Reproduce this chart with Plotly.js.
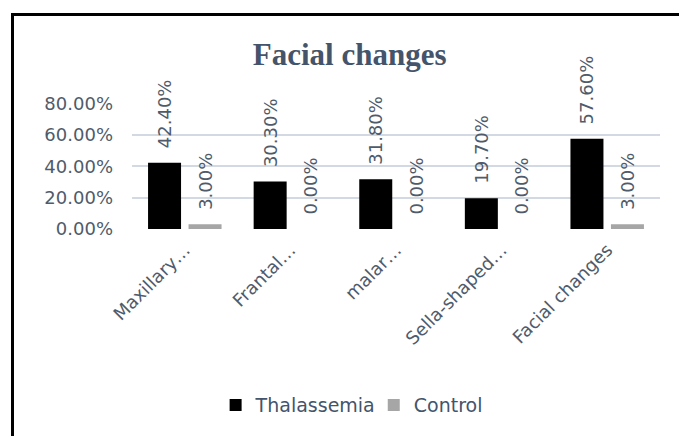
<!DOCTYPE html>
<html>
<head>
<meta charset="utf-8">
<script src="https://cdn.plot.ly/plotly-3.0.1.min.js"></script>
<style>
  html, body { margin: 0; padding: 0; background: #fff; overflow: hidden; }
  #chart { width: 679px; height: 436px; }
  #frame { position: absolute; left: 11px; top: 13px; width: 700px; height: 500px;
           border-left: 3px solid #000; border-top: 3px solid #000; pointer-events: none; }
</style>
</head>
<body>
<div id="chart"></div>
<div id="frame"></div>
<script>
const categories = ["Maxillary…", "Frantal…", "malar…", "Sella-shaped…", "Facial changes"];
const thalassemia = [0.424, 0.303, 0.318, 0.197, 0.576];
const control = [0.03, 0.0, 0.0, 0.0, 0.03];
const yTicks = [0, 0.2, 0.4, 0.6, 0.8];

const labelColor = "#4f5b6b";
const font = "DejaVu Sans, sans-serif";

function series(name, values, color) {
  return {
    type: "bar",
    name: name,
    x: categories,
    y: values,
    marker: { color: color },
    texttemplate: "\u00a0\u00a0%{y:.2%}",
    textposition: "outside",
    textangle: -90,
    constraintext: "none",
    cliponaxis: false,
    textfont: { family: font, size: 18, color: labelColor },
    hoverinfo: "skip"
  };
}

const data = [
  series("Thalassemia", thalassemia, "#000000"),
  series("Control", control, "#a6a6a6")
];

const layout = {
  width: 679,
  height: 436,
  margin: { l: 132, r: 19, t: 103.2, b: 207 },
  paper_bgcolor: "#ffffff",
  plot_bgcolor: "#ffffff",
  barmode: "group",
  bargap: 0.233,
  bargroupgap: 0.185,
  showlegend: true,
  title: {
    text: "<b>Facial changes</b>",
    font: { family: "Liberation Serif, Times New Roman, serif", size: 31, color: "#44546a" },
    x: 0.515, xref: "container", xanchor: "center",
    y: 0.875, yref: "container", yanchor: "middle"
  },
  xaxis: {
    type: "category",
    tickangle: -45,
    ticks: "",
    ticklabelstandoff: 6,
    showgrid: false,
    showline: false,
    zeroline: false,
    tickfont: { family: font, size: 18, color: labelColor }
  },
  yaxis: {
    range: [0, 0.805],
    tickvals: yTicks,
    tickformat: ".2%",
    ticks: "",
    ticklabelstandoff: 18,
    showgrid: true,
    gridcolor: "#d3d9e2",
    gridwidth: 2,
    zeroline: false,
    showline: false,
    tickfont: { family: font, size: 18, color: labelColor }
  },
  legend: {
    orientation: "h",
    xref: "container", yref: "container",
    x: 0.523, xanchor: "center",
    y: 0.071, yanchor: "middle",
    font: { family: font, size: 19, color: "#44546a" },
    itemwidth: 30,
    indentation: -7
  }
};

Plotly.newPlot("chart", data, layout, { staticPlot: true, displayModeBar: false });
</script>
</body>
</html>
